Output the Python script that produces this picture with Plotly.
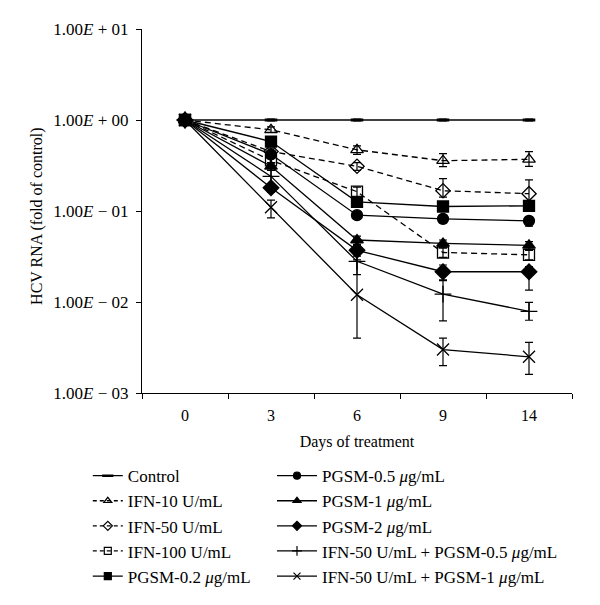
import plotly.graph_objects as go

days = ["0", "3", "6", "9", "14"]

names = [
    "Control",
    "IFN-10 U/mL",
    "IFN-50 U/mL",
    "IFN-100 U/mL",
    "PGSM-0.2 <i>μ</i>g/mL",
    "PGSM-0.5 <i>μ</i>g/mL",
    "PGSM-1 <i>μ</i>g/mL",
    "PGSM-2 <i>μ</i>g/mL",
    "IFN-50 U/mL + PGSM-0.5 <i>μ</i>g/mL",
    "IFN-50 U/mL + PGSM-1 <i>μ</i>g/mL",
]

y_ticks = [1e-3, 1e-2, 1e-1, 1, 10]
y_ticktext = ["1.00<i>E</i> − 03", "1.00<i>E</i> − 02", "1.00<i>E</i> − 01",
              "1.00<i>E</i> + 00", "1.00<i>E</i> + 01"]

control = [1.0, 1.0, 1.0, 1.0, 1.0]
ifn10 = [1.0, 0.78, 0.47, 0.357, 0.37]
ifn50 = [1.0, 0.45, 0.31, 0.167, 0.155]
ifn100 = [1.0, 0.36, 0.163, 0.035, 0.033]
pgsm02 = [1.0, 0.58, 0.126, 0.112, 0.114]
pgsm05 = [1.0, 0.42, 0.09, 0.082, 0.078]
pgsm1 = [1.0, 0.31, 0.048, 0.044, 0.042]
pgsm2 = [1.0, 0.18, 0.037, 0.0215, 0.0215]
combo05 = [1.0, 0.24, 0.028, 0.0122, 0.0079]
combo1 = [1.0, 0.11, 0.012, 0.003, 0.0025]

err_plus = {
    "control": [0.02, 0.02, 0.02, 0.02, 0.02],
    "ifn10": [0.03, 0.06, 0.05, 0.07, 0.08],
    "ifn50": [0.03, 0.04, 0.03, 0.06, 0.065],
    "ifn100": [0.03, 0.03, 0.02, 0.004, 0.004],
    "pgsm02": [0.03, 0.04, 0.01, 0.01, 0.01],
    "pgsm05": [0.03, 0.03, 0.008, 0.008, 0.008],
    "pgsm1": [0.03, 0.03, 0.005, 0.004, 0.004],
    "pgsm2": [0.03, 0.02, 0.005, 0.004, 0.003],
    "combo05": [0.03, 0.04, 0.012, 0.005, 0.002],
    "combo1": [0.03, 0.022, 0.017, 0.001, 0.0011],
}
err_minus = {
    "control": [0.02, 0.02, 0.02, 0.02, 0.02],
    "ifn10": [0.03, 0.05, 0.05, 0.05, 0.06],
    "ifn50": [0.03, 0.04, 0.03, 0.025, 0.025],
    "ifn100": [0.03, 0.03, 0.02, 0.004, 0.004],
    "pgsm02": [0.03, 0.04, 0.01, 0.01, 0.01],
    "pgsm05": [0.03, 0.03, 0.008, 0.008, 0.01],
    "pgsm1": [0.03, 0.03, 0.005, 0.004, 0.004],
    "pgsm2": [0.03, 0.02, 0.005, 0.004, 0.008],
    "combo05": [0.03, 0.04, 0.008, 0.006, 0.0016],
    "combo1": [0.03, 0.026, 0.008, 0.001, 0.0009],
}

series = [
    ("control", control, "line-ew-open", 9, "solid"),
    ("ifn10", ifn10, "triangle-up-open", 11, "dash"),
    ("ifn50", ifn50, "diamond-open", 11, "dash"),
    ("ifn100", ifn100, "square-open", 11, "dash"),
    ("pgsm02", pgsm02, "square", 11, "solid"),
    ("pgsm05", pgsm05, "circle", 11, "solid"),
    ("pgsm1", pgsm1, "triangle-up", 11, "solid"),
    ("pgsm2", pgsm2, "diamond", 12, "solid"),
    ("combo05", combo05, "cross-thin-open", 12, "solid"),
    ("combo1", combo1, "x-thin-open", 12, "solid"),
]

fig = go.Figure()
for i, (key, vals, sym, size, dash) in enumerate(series):
    mlw = 3 if key == "control" else 1.3
    dash_style = "6px,4px" if dash == "dash" else "solid"
    fig.add_trace(go.Scatter(
        x=days, y=vals, name=names[i], mode="lines+markers", showlegend=False,
        line=dict(color="black", width=1.3, dash=dash_style),
        marker=dict(symbol=sym, size=size, color="black",
                    line=dict(color="black", width=mlw)),
        error_y=dict(type="data", symmetric=False, array=err_plus[key],
                     arrayminus=err_minus[key], color="black", thickness=1.2, width=4),
    ))
    # legend entry with smaller symbols (two legend columns)
    fig.add_trace(go.Scatter(
        x=[days[0]], y=[None], name=names[i], mode="lines+markers",
        legend="legend" if i < 5 else "legend2", hoverinfo="skip",
        line=dict(color="black", width=1.3, dash="4px,3px" if dash == "dash" else "solid"),
        marker=dict(symbol=sym, size=7 if key != "control" else 8, color="black",
                    line=dict(color="black", width=2.5 if key == "control" else 1.2)),
    ))

font_family = "Liberation Serif"
legend_common = dict(
    orientation="v", xref="container", yref="container",
    yanchor="top", xanchor="left",
    font=dict(family=font_family, size=17, color="black"),
    traceorder="normal", bgcolor="rgba(0,0,0,0)",
)
fig.update_layout(
    width=600, height=605,
    margin=dict(l=134, r=36, t=21, b=220, autoexpand=False),
    paper_bgcolor="white", plot_bgcolor="white",
    font=dict(family=font_family, size=16, color="black"),
    showlegend=True,
    legend=dict(x=0.133, y=0.256, itemwidth=30, **legend_common),
    legend2=dict(x=0.44, y=0.256, itemwidth=40, **legend_common),
    xaxis=dict(
        type="category", categoryorder="array", categoryarray=days,
        range=[-0.5, 4.5], tickson="boundaries",
        ticks="outside", ticklen=5, tickcolor="black", tickwidth=1,
        showline=True, linecolor="black", linewidth=1.2, mirror=False,
        showgrid=False, zeroline=False, ticklabelstandoff=8,
        title=dict(text="Days of treatment", font=dict(size=16), standoff=12),
        tickfont=dict(size=16),
    ),
    yaxis=dict(
        type="log", range=[-3, 1],
        tickvals=y_ticks, ticktext=y_ticktext,
        ticks="outside", ticklen=5, tickcolor="black", tickwidth=1,
        showline=True, linecolor="black", linewidth=1.2,
        showgrid=False, zeroline=False, ticklabelstandoff=4,
        tickfont=dict(size=17),
    ),
    annotations=[dict(
        text="HCV RNA (fold of control)", textangle=-90,
        xref="paper", yref="paper", x=-0.244, y=0.484,
        xanchor="center", yanchor="middle", showarrow=False,
        font=dict(family=font_family, size=16, color="black"),
    )],
)

fig.write_html("out.html")
